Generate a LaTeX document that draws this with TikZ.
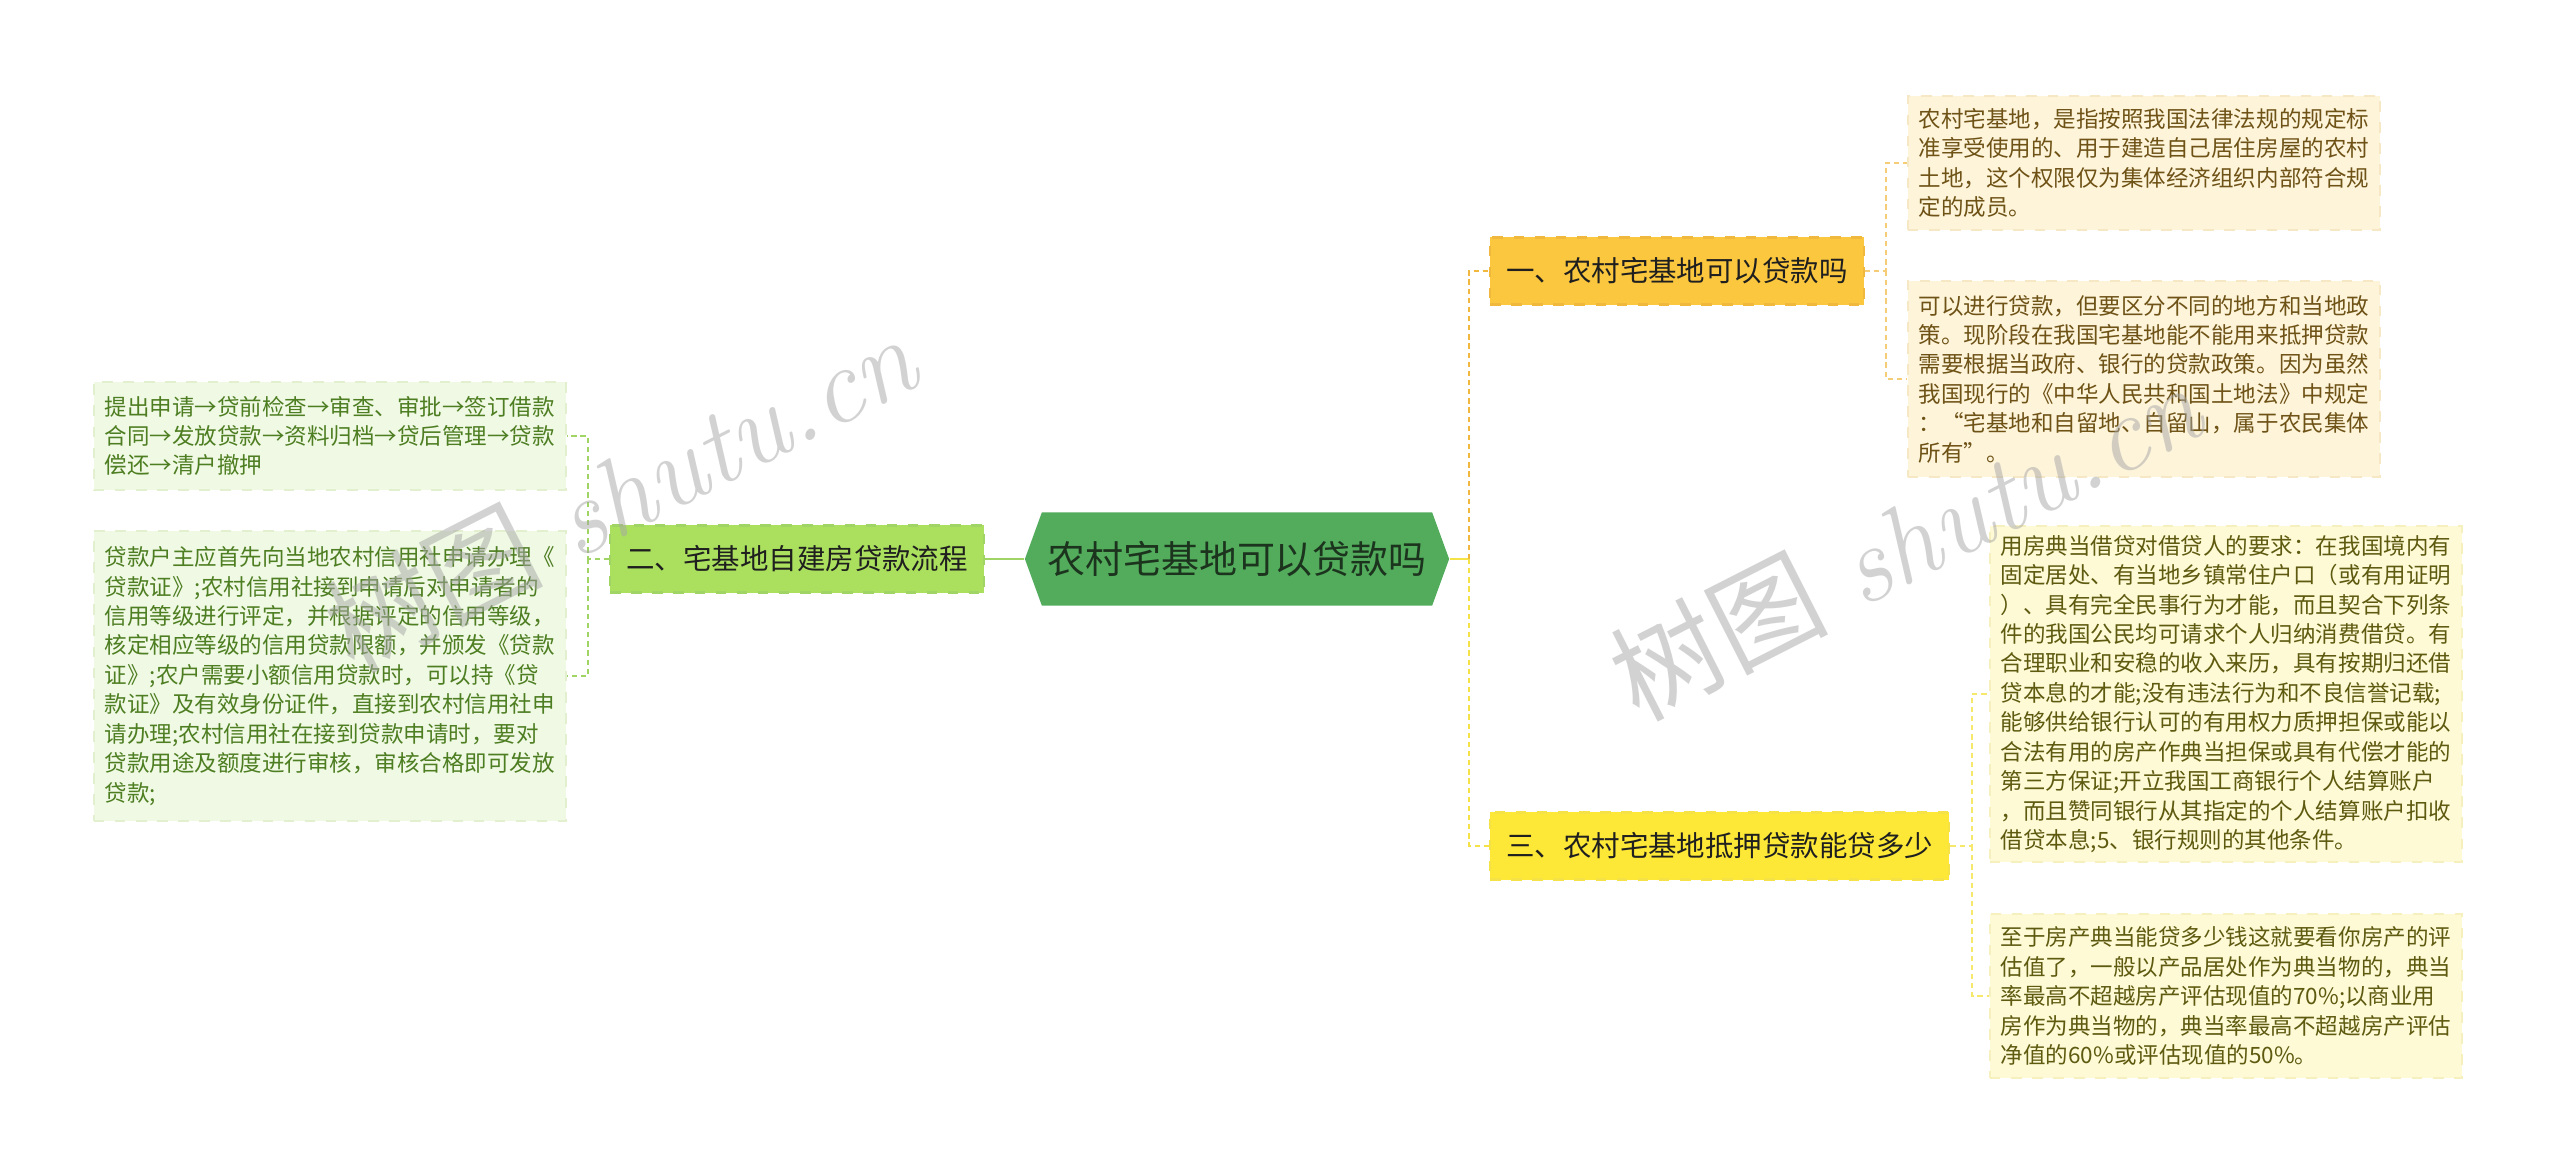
\documentclass[tikz,border=0pt]{standalone}
\usepackage{fontspec}
\newfontfamily\cjk{Noto Sans CJK SC}
\usetikzlibrary{positioning,shapes.symbols}
\definecolor{hubfill}{RGB}{82,172,92}
\definecolor{hubtext}{RGB}{28,52,30}
\definecolor{oafill}{RGB}{251,199,62}
\definecolor{oaline}{RGB}{240,184,60}
\definecolor{gafill}{RGB}{170,224,94}
\definecolor{galine}{RGB}{160,212,100}
\definecolor{yafill}{RGB}{253,232,55}
\definecolor{yaline}{RGB}{244,226,70}
\definecolor{onfill}{RGB}{253,244,218}
\definecolor{online}{RGB}{246,232,196}
\definecolor{ontext}{RGB}{110,82,22}
\definecolor{ynfill}{RGB}{254,250,214}
\definecolor{ynline}{RGB}{246,240,190}
\definecolor{yntext}{RGB}{94,90,16}
\definecolor{gnfill}{RGB}{240,249,228}
\definecolor{gnline}{RGB}{226,240,208}
\definecolor{gntext}{RGB}{78,126,34}
\tikzset{
  hub/.style={signal,signal to=west and east,signal pointer angle=140,fill=hubfill,
    text=hubtext,font=\cjk\fontsize{10.8}{13}\selectfont,minimum width=4.24cm,
    minimum height=0.93cm,inner sep=0pt},
  br/.style={rectangle,dashed,line width=0.6pt,text=black!88,inner xsep=0.16cm,
    minimum height=0.67cm,font=\cjk\fontsize{8.1}{10}\selectfont},
  note/.style={rectangle,dashed,line width=0.5pt,align=left,text width=4.5cm,
    inner xsep=0.11cm,inner ysep=0pt,font=\cjk\fontsize{6.4}{8.37}\selectfont},
  onote/.style={note,fill=onfill,draw=online,text=ontext,anchor=west},
  ynote/.style={note,fill=ynfill,draw=ynline,text=yntext,anchor=west},
  gnote/.style={note,fill=gnfill,draw=gnline,text=gntext,anchor=east},
  hublink/.style={line width=0.85pt},
  lnk/.style={line width=0.7pt,dash pattern=on 1.5pt off 1.1pt},
  wmark/.style={text=black!35,text opacity=0.5,rotate=27,font=\fontsize{31}{31}\selectfont},
}
\begin{document}
\begin{tikzpicture}[x=0.01cm,y=-0.01cm]
  \useasboundingbox[fill=white] (0,0) rectangle (2560,1176);
  % centre and the three topics
  \node[hub] (root) at (1237,559) {农村宅基地可以贷款吗};
  \node[br,fill=oafill,draw=oaline,anchor=west] (t1) at (1489,271) {一、农村宅基地可以贷款吗};
  \node[br,fill=gafill,draw=galine,anchor=east] (t2) at (985,559) {二、宅基地自建房贷款流程};
  \node[br,fill=yafill,draw=yaline,anchor=west] (t3) at (1489,846) {三、农村宅基地抵押贷款能贷多少};
  % notes of topic one
  \node[onote,minimum height=1.34cm] (n11) at (1907,163)
    {农村宅基地，是指按照我国法律法规的规定标\\准享受使用的、用于建造自己居住房屋的农村\\土地，这个权限仅为集体经济组织内部符合规\\定的成员。};
  \node[onote,minimum height=1.96cm] (n12) at (1907,379)
    {可以进行贷款，但要区分不同的地方和当地政\\策。现阶段在我国宅基地能不能用来抵押贷款\\需要根据当政府、银行的贷款政策。因为虽然\\我国现行的《中华人民共和国土地法》中规定\\：“宅基地和自留地、自留山，属于农民集体\\所有”。};
  % notes of topic three
  \node[ynote,minimum height=3.36cm] (n31) at (1989,694)
    {用房典当借贷对借贷人的要求：在我国境内有\\固定居处、有当地乡镇常住户口（或有用证明\\）、具有完全民事行为才能，而且契合下列条\\件的我国公民均可请求个人归纳消费借贷。有\\合理职业和安稳的收入来历，具有按期归还借\\贷本息的才能;没有违法行为和不良信誉记载;\\能够供给银行认可的有用权力质押担保或能以\\合法有用的房产作典当担保或具有代偿才能的\\第三方保证;开立我国工商银行个人结算账户\\，而且赞同银行从其指定的个人结算账户扣收\\借贷本息;5、银行规则的其他条件。};
  \node[ynote,minimum height=1.64cm] (n32) at (1989,996)
    {至于房产典当能贷多少钱这就要看你房产的评\\估值了，一般以产品居处作为典当物的，典当\\率最高不超越房产评估现值的70\%;以商业用\\房作为典当物的，典当率最高不超越房产评估\\净值的60\%或评估现值的50\%。};
  % notes of topic two
  \node[gnote,minimum height=1.08cm] (n21) at (567,436)
    {提出申请→贷前检查→审查、审批→签订借款\\合同→发放贷款→资料归档→贷后管理→贷款\\偿还→清户撤押};
  \node[gnote,minimum height=2.90cm] (n22) at (567,676)
    {贷款户主应首先向当地农村信用社申请办理《\\贷款证》;农村信用社接到申请后对申请者的\\信用等级进行评定，并根据评定的信用等级，\\核定相应等级的信用贷款限额，并颁发《贷款\\证》;农户需要小额信用贷款时，可以持《贷\\款证》及有效身份证件，直接到农村信用社申\\请办理;农村信用社在接到贷款申请时，要对\\贷款用途及额度进行审核，审核合格即可发放\\贷款;};
  % links
  \coordinate (rs) at (1469,559);
  \coordinate (ls) at (588,559);
  \coordinate (s1) at (1886,271);
  \coordinate (s3) at (1972,846);
  \draw[hublink,yaline] (root.east) -- (rs);
  \draw[lnk,oaline] (rs) |- (t1.west);
  \draw[lnk,yaline] (rs) |- (t3.west);
  \draw[hublink,galine] (root.west) -- (t2.east);
  \draw[lnk,galine] (t2.west) -- (ls) |- (n21.east);
  \draw[lnk,galine] (ls) |- (n22.east);
  \draw[lnk,oaline!70] (t1.east) -- (s1) |- (n11.west);
  \draw[lnk,oaline!70] (s1) |- (n12.west);
  \draw[lnk,yaline!80] (t3.east) -- (s3) |- (n31.west);
  \draw[lnk,yaline!80] (s3) |- (n32.west);
  % watermark
  \node[wmark] (wm1) at (620,492) {{\cjk 树图} \itshape shutu.cn};
  \node[wmark] (wm2) at (1905,540) {{\cjk 树图} \itshape shutu.cn};
\end{tikzpicture}
\end{document}
